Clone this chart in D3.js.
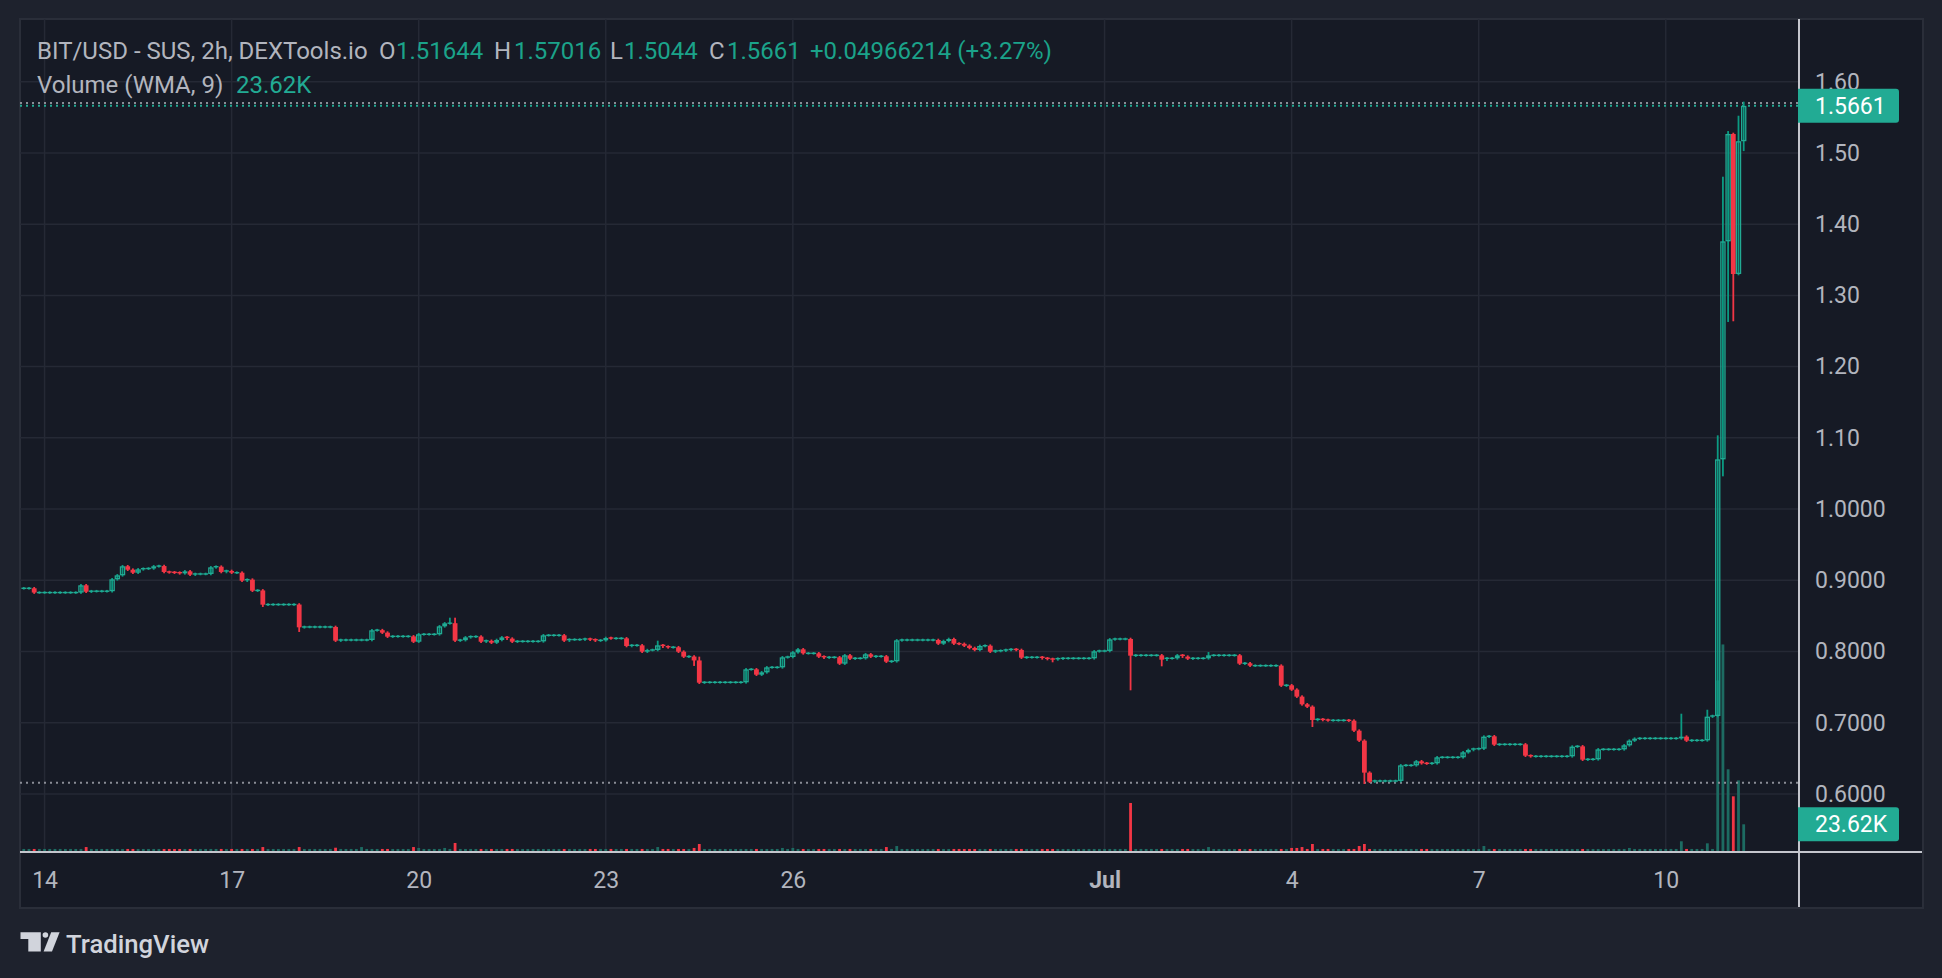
<!DOCTYPE html>
<html>
<head>
    <meta charset="utf-8">
    <title>BIT/USD - SUS, 2h</title>

    <!--  D3js library -->
    <script src="https://d3js.org/d3.v7.min.js"></script>

    <style>
        body {
            margin: 0;
            background: #1e222d;
        }

        svg text {
            font-family: Roboto, "Noto Sans", sans-serif;
        }
    </style>
</head>

<body>
    <div id="chart"></div>

    <script>
        // ---- data ----
        // first 2h bar (Jun 13 16:00 UTC), bars every 2 hours
        const firstBar = new Date(Date.UTC(2023, 5, 13, 16));
        const barHours = 2;

        // close of each 2h bar (open = previous close)
        const closes = [
            0.8888, 0.8888, 0.8828, 0.8828, 0.8828, 0.8828, 0.8828, 0.8828, 0.8828, 0.8828, 0.8828, 0.8930,
            0.8840, 0.8847, 0.8847, 0.8847, 0.8847, 0.9014, 0.9070, 0.9197, 0.9149, 0.9107, 0.9154, 0.9163,
            0.9166, 0.9197, 0.9200, 0.9117, 0.9112, 0.9107, 0.9098, 0.9126, 0.9079, 0.9089, 0.9089, 0.9089,
            0.9182, 0.9191, 0.9117, 0.9131, 0.9107, 0.9107, 0.8995, 0.9009, 0.8854, 0.8858, 0.8658, 0.8660,
            0.8660, 0.8660, 0.8660, 0.8660, 0.8660, 0.8340, 0.8345, 0.8345, 0.8345, 0.8345, 0.8345, 0.8345,
            0.8153, 0.8162, 0.8162, 0.8162, 0.8162, 0.8162, 0.8162, 0.8298, 0.8300, 0.8265, 0.8209, 0.8213,
            0.8213, 0.8213, 0.8213, 0.8138, 0.8242, 0.8242, 0.8242, 0.8242, 0.8354, 0.8396, 0.8398, 0.8153,
            0.8160, 0.8199, 0.8209, 0.8210, 0.8138, 0.8150, 0.8124, 0.8162, 0.8199, 0.8181, 0.8138, 0.8143,
            0.8143, 0.8143, 0.8143, 0.8143, 0.8228, 0.8228, 0.8228, 0.8228, 0.8153, 0.8168, 0.8168, 0.8168,
            0.8176, 0.8166, 0.8153, 0.8157, 0.8190, 0.8185, 0.8185, 0.8185, 0.8078, 0.8087, 0.8087, 0.7998,
            0.8020, 0.8022, 0.8087, 0.8068, 0.8059, 0.8060, 0.7998, 0.7928, 0.7930, 0.7875, 0.7563, 0.7568,
            0.7568, 0.7568, 0.7568, 0.7568, 0.7568, 0.7568, 0.7568, 0.7750, 0.7750, 0.7675, 0.7708, 0.7778,
            0.7778, 0.7778, 0.7919, 0.7923, 0.7989, 0.8031, 0.7975, 0.7975, 0.7975, 0.7928, 0.7914, 0.7919,
            0.7919, 0.7830, 0.7947, 0.7900, 0.7905, 0.7905, 0.7961, 0.7928, 0.7933, 0.7933, 0.7858, 0.7863,
            0.8157, 0.8162, 0.8162, 0.8162, 0.8162, 0.8162, 0.8162, 0.8162, 0.8111, 0.8148, 0.8176, 0.8111,
            0.8108, 0.8082, 0.8050, 0.8022, 0.8078, 0.8082, 0.7998, 0.8008, 0.8012, 0.8022, 0.8030, 0.8022,
            0.7914, 0.7919, 0.7919, 0.7919, 0.7905, 0.7895, 0.7890, 0.7900, 0.7905, 0.7905, 0.7905, 0.7905,
            0.7905, 0.7905, 0.8003, 0.8008, 0.8008, 0.8171, 0.8176, 0.8176, 0.8176, 0.7942, 0.7947, 0.7947,
            0.7947, 0.7947, 0.7947, 0.7886, 0.7905, 0.7905, 0.7947, 0.7928, 0.7900, 0.7905, 0.7905, 0.7905,
            0.7947, 0.7947, 0.7947, 0.7947, 0.7947, 0.7947, 0.7830, 0.7835, 0.7802, 0.7802, 0.7802, 0.7802,
            0.7802, 0.7802, 0.7521, 0.7526, 0.7465, 0.7367, 0.7259, 0.7226, 0.7039, 0.7048, 0.7039, 0.7034,
            0.7034, 0.7034, 0.7034, 0.7030, 0.6889, 0.6749, 0.6300, 0.6173, 0.6183, 0.6183, 0.6183, 0.6183,
            0.6183, 0.6402, 0.6402, 0.6402, 0.6459, 0.6431, 0.6428, 0.6431, 0.6515, 0.6515, 0.6515, 0.6515,
            0.6515, 0.6585, 0.6618, 0.6632, 0.6636, 0.6805, 0.6810, 0.6693, 0.6697, 0.6697, 0.6697, 0.6697,
            0.6697, 0.6538, 0.6529, 0.6529, 0.6529, 0.6529, 0.6529, 0.6529, 0.6529, 0.6529, 0.6665, 0.6669,
            0.6482, 0.6487, 0.6487, 0.6627, 0.6627, 0.6627, 0.6627, 0.6627, 0.6683, 0.6749, 0.6777, 0.6781,
            0.6781, 0.6781, 0.6781, 0.6781, 0.6781, 0.6781, 0.6781, 0.6805, 0.6749, 0.6753, 0.6753, 0.6753,
            0.7086, 0.7095, 1.0698, 1.3759, 1.5266, 1.3300, 1.51644, 1.5661
        ];

        // wicks that stick out of the body: [bar index, price]
        const highWicks = [[82, 0.8457], [83, 0.8457], [122, 0.8134], [130, 0.7910], [228, 0.7975],
            [319, 0.7109], [324, 0.7165], [326, 1.1017], [327, 1.4648], [328, 1.5289], [330, 1.5504], [331, 1.57016]];
        const lowWicks = [[46, 0.8644], [53, 0.8293], [129, 0.7816], [198, 0.7867], [213, 0.7474],
            [219, 0.7811], [248, 0.6959], [258, 0.6159], [327, 1.0478], [328, 1.2645], [329, 1.2655], [331, 1.5044]];

        // volume per bar, thousands
        const volumes = [
            1.8, 1.8, 1.8, 1.8, 1.8, 1.8, 1.8, 1.8, 1.8, 1.8, 1.8, 1.8,
            3.5, 1.8, 1.8, 1.8, 1.8, 1.8, 1.8, 1.8, 1.8, 1.8, 1.8, 1.8,
            1.8, 1.8, 1.8, 1.8, 1.8, 1.8, 1.8, 1.8, 1.8, 1.8, 1.8, 1.8,
            1.8, 1.8, 1.8, 1.8, 1.8, 1.8, 1.8, 1.8, 1.8, 1.8, 3.5, 1.8,
            1.8, 1.8, 1.8, 1.8, 1.8, 3.5, 1.8, 1.8, 1.8, 1.8, 1.8, 1.8,
            2.9, 1.8, 1.8, 1.8, 1.8, 3.5, 1.8, 1.8, 1.8, 1.8, 1.8, 1.8,
            1.8, 1.8, 1.8, 3.5, 2.7, 1.8, 1.8, 1.8, 1.8, 2.7, 1.8, 7.1,
            1.8, 1.8, 1.8, 1.8, 1.8, 1.8, 1.8, 1.8, 1.8, 1.8, 1.8, 1.8,
            1.8, 1.8, 1.8, 1.8, 1.8, 1.8, 1.8, 1.8, 1.8, 1.8, 1.8, 1.8,
            1.8, 1.8, 1.8, 1.8, 1.8, 1.8, 1.8, 1.8, 1.8, 1.8, 1.8, 1.8,
            1.8, 1.8, 3.5, 1.8, 1.8, 1.8, 1.8, 1.8, 1.8, 2.7, 6.2, 1.8,
            1.8, 1.8, 1.8, 1.8, 1.8, 1.8, 1.8, 1.8, 1.8, 1.8, 1.8, 1.8,
            1.8, 1.8, 2.7, 1.8, 2.7, 1.8, 1.8, 1.8, 1.8, 1.8, 1.8, 1.8,
            1.8, 1.8, 1.8, 1.8, 1.8, 1.8, 1.8, 1.8, 1.8, 1.8, 3.5, 1.8,
            4.4, 1.8, 1.8, 1.8, 1.8, 1.8, 1.8, 1.8, 1.8, 1.8, 1.8, 1.8,
            1.8, 1.8, 1.8, 1.8, 1.8, 1.8, 1.8, 1.8, 1.8, 1.8, 1.8, 1.8,
            1.8, 1.8, 1.8, 1.8, 1.8, 1.8, 1.8, 1.8, 1.8, 1.8, 1.8, 1.8,
            1.8, 1.8, 1.8, 1.8, 1.8, 1.8, 1.8, 1.8, 1.8, 42.5, 1.8, 1.8,
            1.8, 1.8, 1.8, 1.8, 1.8, 1.8, 1.8, 1.8, 1.8, 1.8, 1.8, 1.8,
            3.5, 1.8, 1.8, 1.8, 1.8, 1.8, 1.8, 1.8, 1.8, 1.8, 1.8, 1.8,
            1.8, 1.8, 1.8, 1.8, 2.7, 2.7, 3.5, 1.8, 6.2, 1.8, 1.8, 1.8,
            1.8, 1.8, 1.8, 1.8, 1.8, 4.4, 6.2, 1.8, 1.8, 1.8, 1.8, 1.8,
            1.8, 1.8, 1.8, 1.8, 1.8, 1.8, 1.8, 1.8, 1.8, 1.8, 1.8, 1.8,
            1.8, 1.8, 1.8, 1.8, 1.8, 4.4, 1.8, 1.8, 1.8, 1.8, 1.8, 1.8,
            1.8, 1.8, 1.8, 1.8, 1.8, 1.8, 1.8, 1.8, 1.8, 1.8, 1.8, 1.8,
            1.8, 1.8, 1.8, 1.8, 1.8, 1.8, 1.8, 1.8, 1.8, 2.7, 1.8, 1.8,
            1.8, 1.8, 1.8, 1.8, 1.8, 1.8, 1.8, 8.6, 1.8, 1.8, 1.8, 1.8,
            6.8, 1.8, 151.0, 182.8, 72.3, 48.4, 62.5, 23.62
        ];

        // axis ticks
        const priceTicks = [0.6, 0.7, 0.8, 0.9, 1.0, 1.1, 1.2, 1.3, 1.4, 1.5, 1.6];
        const priceTickLabels = ["0.6000", "0.7000", "0.8000", "0.9000", "1.0000", "1.10", "1.20", "1.30", "1.40", "1.50", "1.60"];
        const dayTicks = ["2023-06-14", "2023-06-17", "2023-06-20", "2023-06-23", "2023-06-26",
            "2023-07-01", "2023-07-04", "2023-07-07", "2023-07-10"];
        const dayTickLabels = ["14", "17", "20", "23", "26", "Jul", "4", "7", "10"];

        // legend values
        const lastOpen = 1.51644, lastHigh = 1.57016, lastLow = 1.5044, lastClose = 1.5661;
        const lastChange = "+0.04966214 (+3.27%)";
        const volumeWma = "23.62K";
        const rangeHigh = 1.57016, rangeLow = 0.6159;

        // ---- layout ----
        const W = 1942, H = 978;
        const pane = { left: 20, top: 19, right: 1923, bottom: 908 };
        const plotRight = 1799, plotBottom = 852;
        const upColor = "#22ab94", upWick = "#0b9a82", downColor = "#f23645";
        const textColor = "#b2b5be", gridColor = "#252935";

        // build candles
        const hiMap = new Map(highWicks), loMap = new Map(lowWicks);
        const bars = closes.map((c, i) => {
            const o = i === 0 ? c : closes[i - 1];
            return {
                t: d3.utcHour.offset(firstBar, i * barHours),
                o: o, c: c,
                h: hiMap.has(i) ? hiMap.get(i) : Math.max(o, c),
                l: loMap.has(i) ? loMap.get(i) : Math.min(o, c),
                v: volumes[i],
                up: c >= o
            };
        });

        // scales
        const x = d3.scaleUtc()
            .domain([bars[0].t, bars[bars.length - 1].t])
            .range([23.8, 1743.7]);

        const y = d3.scaleLinear()
            .domain([0.6, 1.6])
            .range([794, 81.7]);

        // volume: 23.62K -> ~27px tall
        const yVol = d3.scaleLinear()
            .domain([0, 200])
            .range([851, 851 - 226]);

        const svg = d3.select("#chart").append("svg")
            .attr("width", W)
            .attr("height", H);

        svg.append("rect").attr("width", W).attr("height", H).attr("fill", "#1e222d");

        svg.append("rect")
            .attr("x", pane.left).attr("y", pane.top)
            .attr("width", pane.right - pane.left)
            .attr("height", pane.bottom - pane.top)
            .attr("fill", "#161a25")
            .attr("stroke", "#2a2e39")
            .attr("stroke-width", 2);

        svg.append("clipPath").attr("id", "plot")
            .append("rect")
            .attr("x", pane.left).attr("y", pane.top)
            .attr("width", plotRight - pane.left)
            .attr("height", plotBottom - pane.top);

        // grid
        const grid = svg.append("g").attr("clip-path", "url(#plot)");
        grid.selectAll(".hgrid").data(priceTicks).join("line")
            .attr("class", "hgrid")
            .attr("x1", pane.left).attr("x2", plotRight)
            .attr("y1", d => y(d)).attr("y2", d => y(d))
            .attr("stroke", gridColor).attr("stroke-width", 1.5);
        grid.selectAll(".vgrid").data(dayTicks).join("line")
            .attr("class", "vgrid")
            .attr("x1", d => x(new Date(d))).attr("x2", d => x(new Date(d)))
            .attr("y1", pane.top).attr("y2", plotBottom)
            .attr("stroke", gridColor).attr("stroke-width", 1.5);

        const plot = svg.append("g").attr("clip-path", "url(#plot)");

        // volume bars
        plot.selectAll(".vol").data(bars).join("rect")
            .attr("class", "vol")
            .attr("x", d => x(d.t) - 1.4)
            .attr("width", 2.8)
            .attr("y", d => yVol(d.v))
            .attr("height", d => yVol(0) - yVol(d.v))
            .attr("fill", d => d.up ? "#1d6b62" : downColor);

        // range high / low and last price lines
        const dotted = [
            { p: rangeHigh, color: "#8a8d96" },
            { p: rangeLow, color: "#8a8d96" },
            { p: lastClose, color: upColor }
        ];
        plot.selectAll(".pline").data(dotted).join("line")
            .attr("class", "pline")
            .attr("x1", pane.left).attr("x2", plotRight)
            .attr("y1", d => y(d.p)).attr("y2", d => y(d.p))
            .attr("stroke", d => d.color)
            .attr("stroke-width", 2)
            .attr("stroke-dasharray", "2 4");

        // wicks
        plot.selectAll(".wick").data(bars).join("rect")
            .attr("class", "wick")
            .attr("x", d => x(d.t) - 0.9)
            .attr("width", 1.8)
            .attr("y", d => y(d.h) - 1.3)
            .attr("height", d => y(d.l) - y(d.h) + 2.6)
            .attr("fill", d => d.up ? upWick : downColor);

        // bodies: red filled, green hollow
        const bodyH = d => Math.abs(y(d.o) - y(d.c));
        plot.selectAll(".down").data(bars.filter(d => !d.up || bodyH(d) < 3)).join("rect")
            .attr("class", "down")
            .attr("x", d => x(d.t) - 2.4)
            .attr("width", 4.8)
            .attr("y", d => Math.min(y(d.o), y(d.c)) - (bodyH(d) < 1.4 ? 0.7 : 0))
            .attr("height", d => Math.max(bodyH(d), 1.4))
            .attr("fill", d => d.up ? upColor : downColor);

        plot.selectAll(".up").data(bars.filter(d => d.up && bodyH(d) >= 3)).join("rect")
            .attr("class", "up")
            .attr("x", d => x(d.t) - 2.05)
            .attr("width", 4.1)
            .attr("y", d => y(d.c) + 0.65)
            .attr("height", d => bodyH(d) - 1.3)
            .attr("fill", "none")
            .attr("stroke", upColor)
            .attr("stroke-width", 1.3);

        // axis lines
        svg.append("line")
            .attr("x1", pane.left).attr("x2", pane.right - 1)
            .attr("y1", plotBottom).attr("y2", plotBottom)
            .attr("stroke", "#c4c6cd").attr("stroke-width", 2);
        svg.append("line")
            .attr("x1", plotRight).attr("x2", plotRight)
            .attr("y1", pane.top).attr("y2", pane.bottom - 1)
            .attr("stroke", "#c4c6cd").attr("stroke-width", 2);

        // price axis
        const yAxis = svg.append("g")
            .attr("transform", `translate(${plotRight},0)`)
            .call(d3.axisRight(y)
                .tickValues(priceTicks)
                .tickFormat((d, i) => priceTickLabels[i])
                .tickSize(0)
                .tickPadding(16));
        yAxis.select(".domain").remove();
        yAxis.selectAll("text")
            .attr("fill", textColor)
            .style("font-size", "23px");

        // time axis
        const xAxis = svg.append("g")
            .attr("transform", `translate(0,${plotBottom})`)
            .call(d3.axisBottom(x)
                .tickValues(dayTicks.map(d => new Date(d)))
                .tickFormat((d, i) => dayTickLabels[i])
                .tickSize(0)
                .tickPadding(20));
        xAxis.select(".domain").remove();
        xAxis.selectAll("text")
            .attr("fill", textColor)
            .style("font-size", "23px")
            .style("font-weight", (d, i) => dayTickLabels[i] === "Jul" ? "bold" : "normal");

        // last value labels
        const tags = [
            { yc: y(lastClose), label: lastClose.toFixed(4) },
            { yc: yVol(23.62), label: volumeWma }
        ];
        const tag = svg.selectAll(".tag").data(tags).join("g").attr("class", "tag");
        tag.append("path")
            .attr("d", d => {
                const x0 = plotRight - 1, x1 = 1899, y0 = d.yc - 17, y1 = d.yc + 17, r = 3;
                return `M${x0},${y0}H${x1 - r}Q${x1},${y0} ${x1},${y0 + r}V${y1 - r}Q${x1},${y1} ${x1 - r},${y1}H${x0}Z`;
            })
            .attr("fill", upColor);
        tag.append("text")
            .attr("x", 1815).attr("y", d => d.yc)
            .attr("dy", "0.35em")
            .attr("fill", "#ffffff")
            .style("font-size", "23px")
            .text(d => d.label);

        // legend header
        const head = svg.append("g").style("font-size", "24px");
        const row1 = [
            { x: 37, t: "BIT/USD - SUS, 2h, DEXTools.io", c: textColor },
            { x: 379, t: "O", c: textColor },
            { x: 396, t: lastOpen.toFixed(5), c: "#1ba38a" },
            { x: 494, t: "H", c: textColor },
            { x: 514, t: lastHigh.toFixed(5), c: "#1ba38a" },
            { x: 610, t: "L", c: textColor },
            { x: 624, t: lastLow.toFixed(4), c: "#1ba38a" },
            { x: 709, t: "C", c: textColor },
            { x: 727, t: lastClose.toFixed(4), c: "#1ba38a" },
            { x: 810, t: lastChange, c: "#1ba38a" }
        ];
        head.selectAll(".r1").data(row1).join("text")
            .attr("class", "r1")
            .attr("x", d => d.x).attr("y", 51)
            .attr("dy", "0.35em")
            .attr("fill", d => d.c)
            .text(d => d.t);
        head.append("text")
            .attr("x", 37).attr("y", 85).attr("dy", "0.35em")
            .attr("fill", textColor)
            .text("Volume (WMA, 9)");
        head.append("text")
            .attr("x", 236).attr("y", 85).attr("dy", "0.35em")
            .attr("fill", upColor)
            .text(volumeWma);

        // TradingView mark
        const logo = svg.append("g").attr("fill", "#d1d4dc");
        logo.append("path").attr("d", "M20.5,932.3H40.8V951.5H28.3V939H20.5Z");
        logo.append("circle").attr("cx", 45.4).attr("cy", 935).attr("r", 2.8);
        logo.append("path").attr("d", "M51.2,932.3H59.6L52,951.5H43.6Z");
        logo.append("text")
            .attr("x", 66).attr("y", 953)
            .style("font-size", "25.7px")
            .style("font-weight", 500)
            .text("TradingView");
    </script>
</body>
</html>
